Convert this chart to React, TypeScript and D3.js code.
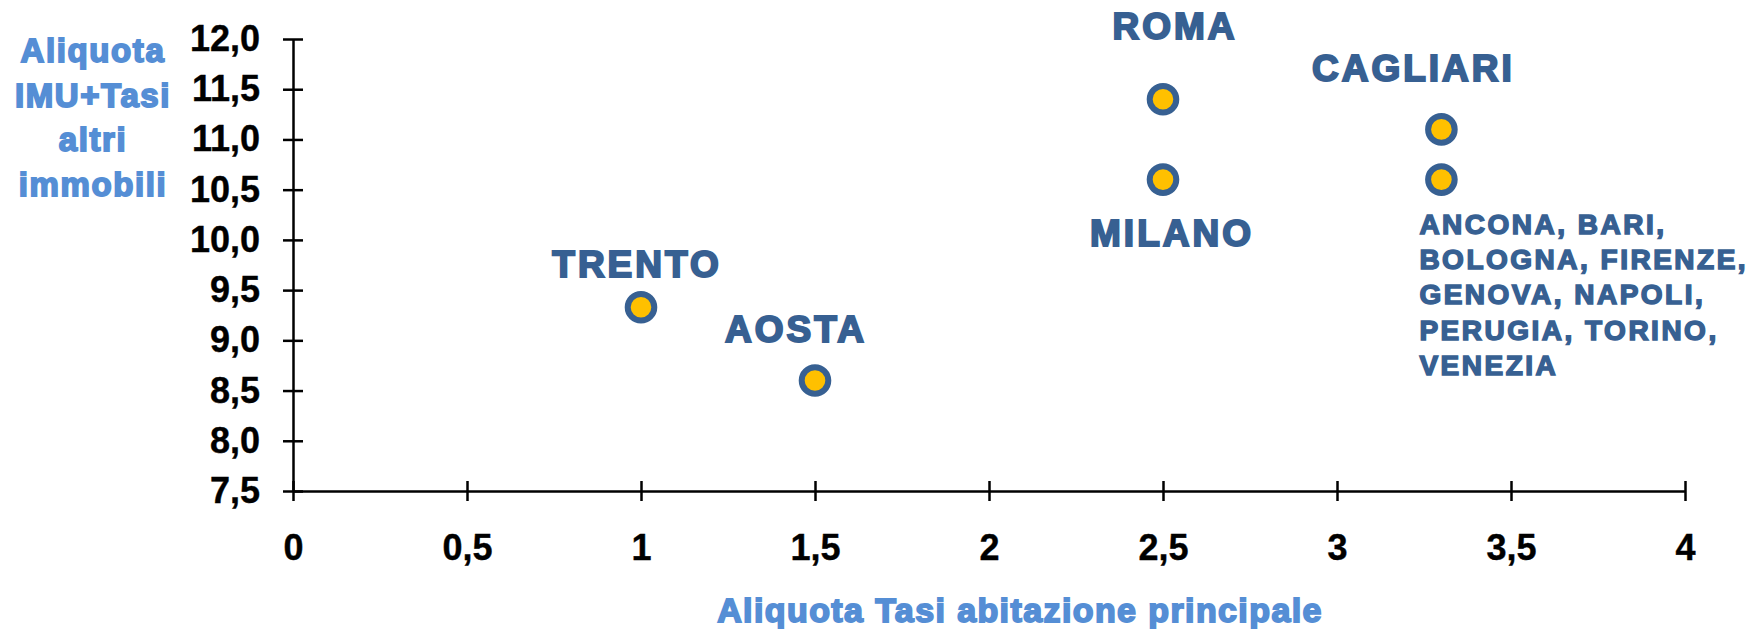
import React, { useEffect, useRef } from "react";
import * as d3 from "d3";

// valori
const cities = ["TRENTO", "AOSTA", "ROMA", "MILANO", "CAGLIARI", "ALTRI"];
const tasiRates = [1, 1.5, 2.5, 2.5, 3.3, 3.3];
const imuTasiRates = [9.33, 8.6, 11.4, 10.6, 11.1, 10.6];
const cityLabels = [
  ["TRENTO"],
  ["AOSTA"],
  ["ROMA"],
  ["MILANO"],
  ["CAGLIARI"],
  ["ANCONA, BARI,", "BOLOGNA, FIRENZE,", "GENOVA, NAPOLI,", "PERUGIA, TORINO,", "VENEZIA"],
];
const xTicks = [0, 0.5, 1, 1.5, 2, 2.5, 3, 3.5, 4];
const yTicks = [7.5, 8, 8.5, 9, 9.5, 10, 10.5, 11, 11.5, 12];
const yTitle = ["Aliquota", "IMU+Tasi", "altri", "immobili"];
const xTitle = "Aliquota Tasi abitazione principale";

// posizione delle etichette rispetto al punto (dx, dy, anchor)
const labelLayout: [number, number, string][] = [
  [-4, -30, "middle"],
  [-19, -39, "middle"],
  [12, -60, "middle"],
  [9, 66, "middle"],
  [-28, -48, "middle"],
  [-22, 54, "start"],
];

const W = 1754;
const H = 629;
const DARK = "#376092";
const LIGHT = "#558ED5";
const FONT = "'Liberation Sans', Arial, sans-serif";

export default function App() {
  const ref = useRef<SVGSVGElement>(null);

  useEffect(() => {
    const svg = d3.select(ref.current);
    svg.selectAll("*").remove();

    const x = d3.scaleLinear().domain([0, 4]).range([293, 1685]);
    const y = d3.scaleLinear().domain([7.5, 12]).range([491, 39]);
    const comma = (s: string) => s.replace(".", ",");

    const xAxis = svg.append("g")
      .attr("transform", `translate(0,${y(7.5)})`)
      .call(d3.axisBottom(x).tickValues(xTicks).tickSize(10).tickSizeOuter(0).tickPadding(33)
        .tickFormat(d => comma(String(d))));
    const yAxis = svg.append("g")
      .attr("transform", `translate(${x(0)},0)`)
      .call(d3.axisLeft(y).tickValues(yTicks).tickSize(10).tickSizeOuter(0).tickPadding(23)
        .tickFormat(d => comma(d3.format(".1f")(d as number))));

    [xAxis, yAxis].forEach(g => {
      g.select(".domain").attr("stroke", "#000").attr("stroke-width", 2.5);
      g.selectAll(".tick line").attr("stroke", "#000").attr("stroke-width", 2.5);
      g.selectAll(".tick text")
        .attr("fill", "#000").attr("stroke", "#000").attr("stroke-width", 0.4)
        .style("font-family", FONT)
        .style("font-weight", "bold")
        .style("font-size", "36px");
    });
    xAxis.selectAll(".tick line").attr("y1", -10).attr("y2", 10);
    yAxis.selectAll(".tick line").attr("x1", -10).attr("x2", 10);

    // titolo asse y
    svg.append("text")
      .attr("text-anchor", "middle")
      .attr("fill", LIGHT).attr("stroke", LIGHT).attr("stroke-width", 1.8)
      .style("font-family", FONT).style("font-weight", "bold")
      .style("font-size", "33px").style("letter-spacing", "1.6px")
      .selectAll("tspan")
      .data(yTitle)
      .enter().append("tspan")
      .attr("x", 93)
      .attr("y", (d, i) => 62 + i * 44.5)
      .text(d => d);

    // titolo asse x
    svg.append("text")
      .attr("x", 1020)
      .attr("y", 622)
      .attr("text-anchor", "middle")
      .attr("fill", LIGHT).attr("stroke", LIGHT).attr("stroke-width", 1.8)
      .style("font-family", FONT).style("font-weight", "bold")
      .style("font-size", "34px").style("letter-spacing", "1.4px")
      .text(xTitle);

    const pts = cities.map((c, i) => ({ c, i, tx: tasiRates[i], ty: imuTasiRates[i] }));

    svg.selectAll("circle")
      .data(pts)
      .enter().append("circle")
      .attr("cx", d => x(d.tx))
      .attr("cy", d => y(d.ty))
      .attr("r", 13.3)
      .attr("fill", "#FFC000")
      .attr("stroke", DARK)
      .attr("stroke-width", 6);

    const labels = svg.selectAll("text.lbl")
      .data(pts)
      .enter().append("text")
      .attr("class", "lbl")
      .attr("text-anchor", d => labelLayout[d.i][2])
      .attr("fill", DARK).attr("stroke", DARK)
      .attr("stroke-width", d => (cityLabels[d.i].length > 1 ? 1.5 : 2))
      .style("font-family", FONT).style("font-weight", "bold")
      .style("font-size", d => (cityLabels[d.i].length > 1 ? "28px" : "37px"))
      .style("letter-spacing", d => (cityLabels[d.i].length > 1 ? "2.5px" : "3px"));

    labels.selectAll("tspan")
      .data(d => cityLabels[d.i].map((t, k) => ({ t, k, d })))
      .enter().append("tspan")
      .attr("x", o => x(o.d.tx) + labelLayout[o.d.i][0])
      .attr("y", o => y(o.d.ty) + labelLayout[o.d.i][1] + o.k * 35.4)
      .text(o => o.t);
  }, []);

  return (
    <svg ref={ref} width={W} height={H}
      style={{ position: "absolute", left: 0, top: 0, background: "#fff" }} />
  );
}
